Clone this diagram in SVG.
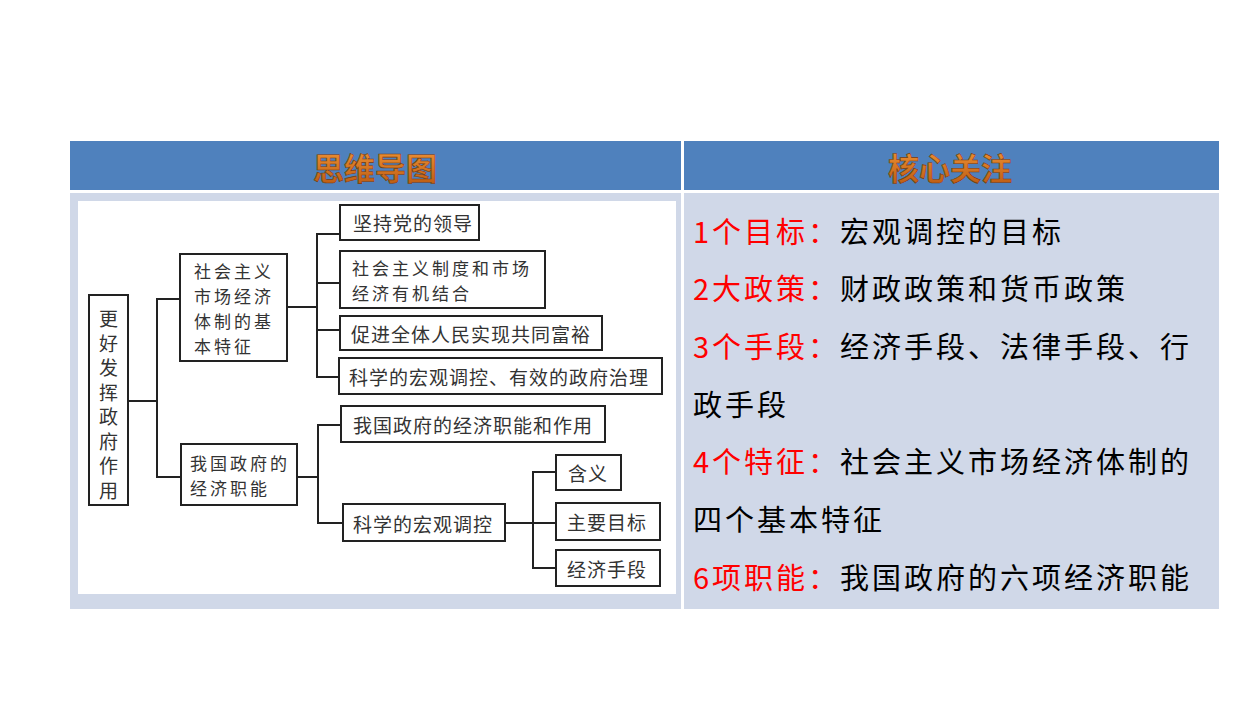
<svg xmlns="http://www.w3.org/2000/svg" width="1258" height="720" viewBox="0 0 1258 720">
<defs>
<linearGradient id="hg" x1="0" y1="0" x2="0" y2="1">
<stop offset="0" stop-color="#f59a3a"/>
<stop offset="1" stop-color="#b8560f"/>
</linearGradient>
<style>
.hd{fill:#4f81bd}
.bd{fill:#d0d8e8}
.ht{font-family:"Noto Sans CJK SC",sans-serif;font-size:31px;font-weight:bold;fill:url(#hg);stroke:#7a3a0a;stroke-width:0.6;text-anchor:middle;dominant-baseline:central}
.box{fill:#fff;stroke:#222;stroke-width:2}
.mt{font-family:"Noto Sans CJK SC",sans-serif;font-size:19px;fill:#333;letter-spacing:1px;dominant-baseline:central}
.ml{font-family:"Noto Sans CJK SC",sans-serif;font-size:17px;fill:#333;letter-spacing:3px;dominant-baseline:central}
.vt{font-family:"Noto Sans CJK SC",sans-serif;font-size:19px;fill:#333;text-anchor:middle;dominant-baseline:central}
.conn line,.conn polyline{stroke:#222;stroke-width:2;fill:none}
.rt{font-family:"Noto Sans CJK SC",sans-serif;font-size:29px;fill:#000;letter-spacing:3px}
.red{fill:#ff0000}
</style>
</defs>
<rect width="1258" height="720" fill="#fff"/>
<!-- table -->
<rect class="hd" x="70" y="141" width="611" height="49"/>
<rect class="hd" x="684" y="141" width="535" height="49"/>
<rect class="bd" x="70" y="193" width="611" height="416"/>
<rect class="bd" x="684" y="193" width="535" height="416"/>
<text class="ht" x="375" y="166">思维导图</text>
<text class="ht" x="950" y="166">核心关注</text>
<rect x="78" y="201" width="598" height="393" fill="#fff"/>
<!-- connectors -->
<g class="conn">
<polyline points="128,401 157,401"/>
<polyline points="180,299 157,299 157,477 181,477"/>
<polyline points="287,307 317,307"/>
<polyline points="340,234 317,234 317,377 339,377"/>
<line x1="317" y1="283" x2="340" y2="283"/>
<line x1="317" y1="330" x2="340" y2="330"/>
<polyline points="297,477 318,477"/>
<polyline points="341,425 318,425 318,523 343,523"/>
<polyline points="505,523 556,523"/>
<polyline points="556,472 533,472 533,568 556,568"/>
</g>
<!-- nodes -->
<g id="root">
<rect class="box" x="89" y="295" width="39" height="210"/>
<text class="vt" x="108.5"><tspan x="108.5" y="317">更</tspan><tspan x="108.5" y="341.5">好</tspan><tspan x="108.5" y="366">发</tspan><tspan x="108.5" y="390.5">挥</tspan><tspan x="108.5" y="415">政</tspan><tspan x="108.5" y="439.5">府</tspan><tspan x="108.5" y="464">作</tspan><tspan x="108.5" y="488.5">用</tspan></text>
</g>
<g id="n-tezheng">
<rect class="box" x="180" y="254" width="107" height="107"/>
<text class="ml"><tspan x="194" y="270">社会主义</tspan><tspan x="194" y="295">市场经济</tspan><tspan x="194" y="320">体制的基</tspan><tspan x="194" y="345">本特征</tspan></text>
</g>
<g id="n-zhineng">
<rect class="box" x="181" y="444" width="116" height="61"/>
<text class="ml"><tspan x="190" y="462">我国政府的</tspan><tspan x="190" y="487">经济职能</tspan></text>
</g>
<g id="n-dang">
<rect class="box" x="340" y="205" width="139" height="35"/>
<text class="mt" x="353" y="222">坚持党的领导</text>
</g>
<g id="n-jiehe">
<rect class="box" x="340" y="251" width="205" height="57"/>
<text class="ml"><tspan x="352" y="267">社会主义制度和市场</tspan><tspan x="352" y="292">经济有机结合</tspan></text>
</g>
<g id="n-fuyu">
<rect class="box" x="340" y="316" width="262" height="34"/>
<text class="mt" x="351" y="333">促进全体人民实现共同富裕</text>
</g>
<g id="n-zhili">
<rect class="box" x="339" y="358" width="323" height="36"/>
<text class="mt" x="349" y="376">科学的宏观调控、有效的政府治理</text>
</g>
<g id="n-zuoyong">
<rect class="box" x="341" y="406" width="264" height="36"/>
<text class="mt" x="353" y="424">我国政府的经济职能和作用</text>
</g>
<g id="n-tiaokong">
<rect class="box" x="343" y="504" width="162" height="37"/>
<text class="mt" x="353" y="523">科学的宏观调控</text>
</g>
<g id="n-hanyi">
<rect class="box" x="556" y="455" width="65" height="35"/>
<text class="mt" x="568" y="472">含义</text>
</g>
<g id="n-mubiao">
<rect class="box" x="556" y="503" width="104" height="37"/>
<text class="mt" x="567" y="521">主要目标</text>
</g>
<g id="n-shouduan">
<rect class="box" x="556" y="550" width="104" height="36"/>
<text class="mt" x="567" y="568">经济手段</text>
</g>
<!-- right panel -->
<g id="focus">
<text class="rt" x="693" y="243"><tspan class="red">1个目标：</tspan>宏观调控的目标</text>
<text class="rt" x="693" y="300"><tspan class="red">2大政策：</tspan>财政政策和货币政策</text>
<text class="rt" x="693" y="358"><tspan class="red">3个手段：</tspan>经济手段、法律手段、行</text>
<text class="rt" x="693" y="416">政手段</text>
<text class="rt" x="693" y="473"><tspan class="red">4个特征：</tspan>社会主义市场经济体制的</text>
<text class="rt" x="693" y="531">四个基本特征</text>
<text class="rt" x="693" y="589"><tspan class="red">6项职能：</tspan>我国政府的六项经济职能</text>
</g>
</svg>
